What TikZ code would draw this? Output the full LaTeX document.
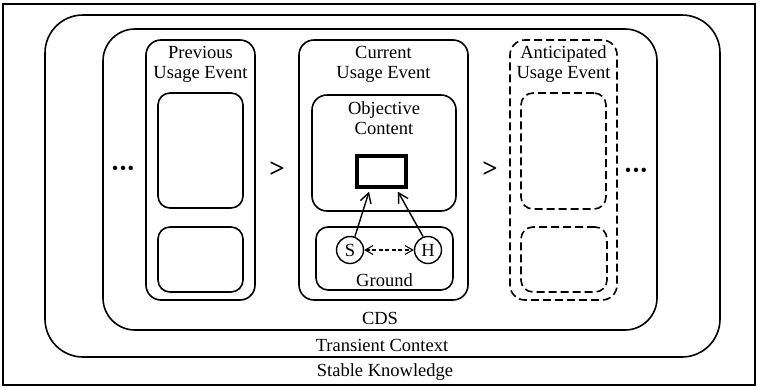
\documentclass[tikz,border=0pt]{standalone}
\usepackage{fontspec}
\setmainfont{Liberation Serif}
\usetikzlibrary{arrows.meta,calc}
\begin{document}
\begin{tikzpicture}[x=1pt,y=-1pt,
  font=\fontsize{18.5}{20}\selectfont,
  line width=1.6pt,
  rbox/.style={draw, rounded corners=#1, inner sep=0pt},
  dbox/.style={rbox=#1, dash pattern=on 8pt off 4pt},
  lbl/.style={inner sep=0pt, align=center},
  tip/.style={-{Straight Barb[angle=60:11pt]}, line width=1.4pt},
  who/.style={draw, circle, inner sep=0pt, minimum size=27pt, line width=1.4pt}]
\useasboundingbox (0,0) rectangle (758,389);
% outer frames
\node[draw, inner sep=0pt, minimum width=752pt, minimum height=381pt] (stable) at (379,194.5) {};
\node[rbox=38pt, minimum width=675pt, minimum height=342pt] (transient) at (382.5,186) {};
\node[rbox=32pt, minimum width=554pt, minimum height=301pt] (cds) at (380,179.5) {};
% previous usage event
\node[rbox=15pt, minimum width=109pt, minimum height=260pt] (prev) at (200.5,170) {};
\node[rbox=12pt, minimum width=85pt, minimum height=115pt] (prevup) at (200.5,150.5) {};
\node[rbox=12pt, minimum width=85pt, minimum height=65pt] (prevlow) at (200.5,259.5) {};
\node[lbl] (prevt) at (200.5,64) {Previous\\Usage Event};
% current usage event
\node[rbox=15pt, minimum width=169pt, minimum height=260pt] (cur) at (383.5,170) {};
\node[lbl] (curt) at (383.5,64) {Current\\Usage Event};
\node[rbox=15pt, minimum width=144pt, minimum height=116pt] (obj) at (384,153) {};
\node[lbl] (objt) at (384,118) {Objective\\Content};
\node[draw, line width=4.5pt, inner sep=0pt, minimum width=49pt, minimum height=31pt] (thick) at (381.5,171.5) {};
\node[rbox=12pt, minimum width=137pt, minimum height=63pt] (ground) at (384.5,258.5) {};
\node[lbl] (groundt) at (384.5,280) {Ground};
\node[who] (S) at (350,250) {S};
\node[who] (H) at (428,250) {H};
\draw[tip] (S.70) -- ($(thick.south)+(-12.5,2.5)$);
\draw[tip] (H.110) -- ($(thick.south)+(16.5,2.5)$);
\draw[{Straight Barb[angle=60:9pt]}-{Straight Barb[angle=60:9pt]}, line width=1.1pt, dash pattern=on 4pt off 2.5pt] (S) -- (H);
% anticipated usage event
\node[dbox=15pt, minimum width=107pt, minimum height=260pt] (ant) at (563.5,170) {};
\node[dbox=12pt, minimum width=85pt, minimum height=116pt] (antup) at (563.5,151) {};
\node[dbox=12pt, minimum width=86pt, minimum height=65pt] (antlow) at (564,259.5) {};
\node[lbl, fill=white, inner xsep=1pt] (antt) at (563.5,64) {Anticipated\\Usage Event};
% separators
\node[lbl, font=\bfseries\fontsize{27}{27}\selectfont] (gt1) at (277,170) {>};
\node[lbl, font=\bfseries\fontsize{27}{27}\selectfont] (gt2) at (490,170) {>};
\node[lbl] (dl) at (123,170) {•\kern1.5pt•\kern1.5pt•};
\node[lbl] (dr) at (636,172) {•\kern1.5pt•\kern1.5pt•};
% region labels
\node[lbl] (cdst) at (380,318) {CDS};
\node[lbl] (transt) at (382,345) {Transient Context};
\node[lbl] (stablet) at (385,372) {Stable Knowledge};
\end{tikzpicture}
\end{document}
